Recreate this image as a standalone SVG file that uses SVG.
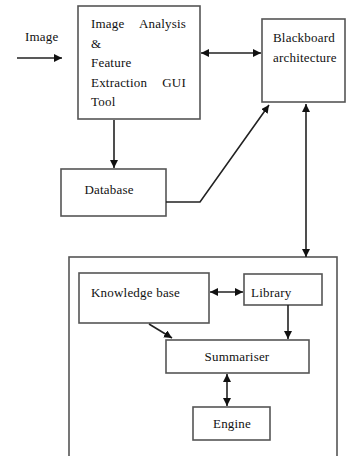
<svg xmlns="http://www.w3.org/2000/svg" width="347" height="456" viewBox="0 0 347 456">
<defs>
<marker id="ah" viewBox="0 0 10 10" refX="10" refY="5" markerWidth="8" markerHeight="8" markerUnits="userSpaceOnUse" orient="auto-start-reverse">
<path d="M0,0 L10,5 L0,10 z" fill="#111"/>
</marker>
<style>
.box{fill:#fff;stroke:#555;stroke-width:1.6}
text{font-family:'Liberation Serif','DejaVu Serif',serif;font-size:13px;fill:#111;letter-spacing:0.2px}
.c{fill:none;stroke:#222;stroke-width:1.6}
</style>
</defs>
<rect width="347" height="456" fill="#fff"/>
<g id="outer"><rect class="box" x="69" y="257" width="268" height="210"/></g>
<g id="imageLabel"><text x="25" y="41">Image</text></g>
<g id="gui">
<rect class="box" x="78" y="6" width="122" height="113"/>
<text x="91" y="28">Image</text><text x="186" y="28" text-anchor="end">Analysis</text>
<text x="91" y="48">&amp;</text>
<text x="91" y="67">Feature</text>
<text x="91" y="87">Extraction</text><text x="186" y="87" text-anchor="end">GUI</text>
<text x="91" y="106">Tool</text>
</g>
<g id="blackboard">
<rect class="box" x="262" y="19" width="83" height="83"/>
<text x="273" y="42">Blackboard</text>
<text x="273" y="62">architecture</text>
</g>
<g id="database">
<rect class="box" x="61" y="169" width="105" height="47"/>
<text x="109" y="194" text-anchor="middle">Database</text>
</g>
<g id="kb">
<rect class="box" x="79" y="273" width="130" height="50"/>
<text x="91" y="297">Knowledge base</text>
</g>
<g id="library">
<rect class="box" x="244" y="274" width="78" height="31"/>
<text x="251" y="297">Library</text>
</g>
<g id="summariser">
<rect class="box" x="166" y="340" width="143" height="33"/>
<text x="237" y="361" text-anchor="middle">Summariser</text>
</g>
<g id="engine">
<rect class="box" x="193" y="407" width="77" height="33"/>
<text x="232" y="428" text-anchor="middle">Engine</text>
</g>
<g id="connectors">
<line class="c" x1="17" y1="58" x2="62" y2="58" marker-end="url(#ah)"/>
<line class="c" x1="201" y1="53" x2="261" y2="53" marker-start="url(#ah)" marker-end="url(#ah)"/>
<line class="c" x1="114" y1="120" x2="114" y2="168" marker-end="url(#ah)"/>
<polyline class="c" points="166,202 200,202 269,105" marker-end="url(#ah)"/>
<line class="c" x1="306" y1="104" x2="306" y2="257" marker-start="url(#ah)" marker-end="url(#ah)"/>
<line class="c" x1="210" y1="292" x2="243" y2="292" marker-start="url(#ah)" marker-end="url(#ah)"/>
<line class="c" x1="288" y1="305" x2="288" y2="339" marker-end="url(#ah)"/>
<line class="c" x1="149" y1="324" x2="172" y2="338" marker-end="url(#ah)"/>
<line class="c" x1="227" y1="374" x2="227" y2="406" marker-start="url(#ah)" marker-end="url(#ah)"/>
</g>
</svg>
